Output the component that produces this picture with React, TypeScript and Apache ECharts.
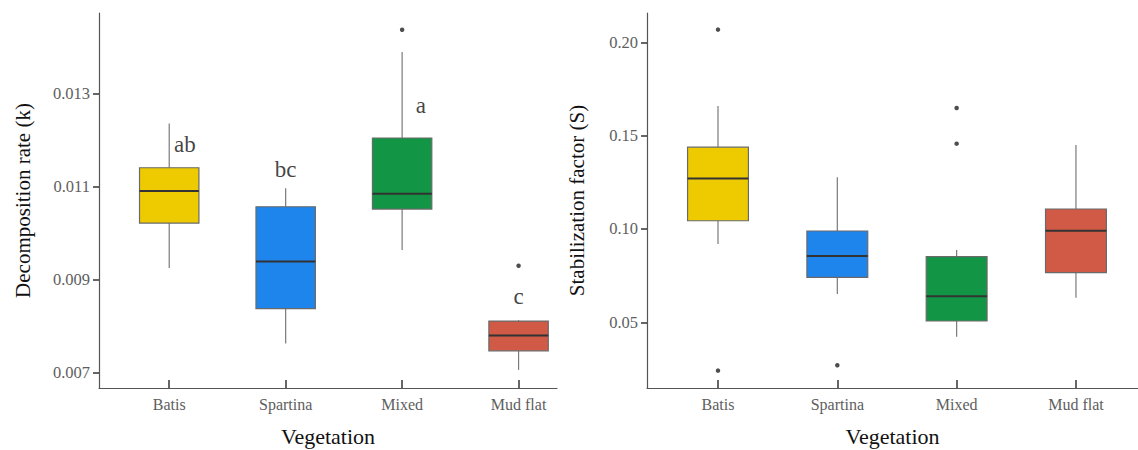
import React, { useEffect, useRef } from "react";
import * as echarts from "echarts";

const categories = ["Batis", "Spartina", "Mixed", "Mud flat"];
const boxColors = ["#EECB00", "#1E85EC", "#129645", "#D05A45"];

// [x, lowerWhisker, Q1, median, Q3, upperWhisker]
const kBoxes = [
  [1, 0.00925, 0.01022, 0.01091, 0.01141, 0.01236],
  [2, 0.00763, 0.00838, 0.00939, 0.01057, 0.01097],
  [3, 0.00964, 0.01052, 0.01085, 0.01205, 0.0139],
  [4, 0.00706, 0.00747, 0.0078, 0.00811, 0.00813],
];
const kOutliers = [
  [3, 0.01438],
  [4, 0.0093],
];
const kLetters = ["ab", "bc", "a", "c"];
const kLetterPos = [
  [1.135, 0.01192],
  [2.0, 0.01138],
  [3.16, 0.01274],
  [4.0, 0.00863],
];
const kTicks = [0.007, 0.009, 0.011, 0.013];

const sBoxes = [
  [1, 0.092, 0.1044, 0.127, 0.1438, 0.1659],
  [2, 0.0652, 0.0741, 0.0855, 0.0989, 0.1277],
  [3, 0.0423, 0.0507, 0.0639, 0.0852, 0.0887],
  [4, 0.0632, 0.0766, 0.0991, 0.1107, 0.145],
];
const sOutliers = [
  [1, 0.2068],
  [1, 0.0241],
  [2, 0.027],
  [3, 0.1648],
  [3, 0.1457],
];
const sTicks = [0.05, 0.1, 0.15, 0.2];

const FONT = "'Liberation Serif', 'Times New Roman', serif";
const AXIS_COLOR = "#555";
const LABEL_COLOR = "#5e5e5e";

function renderBox(params: any, api: any) {
  const x = api.value(0);
  const lo = api.coord([x, api.value(1)]);
  const q1 = api.coord([x, api.value(2)]);
  const med = api.coord([x, api.value(3)]);
  const q3 = api.coord([x, api.value(4)]);
  const hi = api.coord([x, api.value(5)]);
  const half = api.size([0.51, 0])[0] / 2;
  const color = boxColors[params.dataIndex];
  return {
    type: "group",
    children: [
      { type: "line", shape: { x1: lo[0], y1: lo[1], x2: q1[0], y2: q1[1] }, style: { stroke: "#7a7a7a", lineWidth: 1.2 } },
      { type: "line", shape: { x1: q3[0], y1: q3[1], x2: hi[0], y2: hi[1] }, style: { stroke: "#7a7a7a", lineWidth: 1.2 } },
      {
        type: "rect",
        shape: { x: q3[0] - half, y: q3[1], width: half * 2, height: q1[1] - q3[1] },
        style: { fill: color, stroke: "#6a6a6a", lineWidth: 1.2 },
      },
      { type: "line", shape: { x1: med[0] - half, y1: med[1], x2: med[0] + half, y2: med[1] }, style: { stroke: "#333", lineWidth: 2 } },
    ],
  };
}

function xAxisFor(gridIndex: number, min: number, max: number) {
  return {
    type: "value",
    gridIndex,
    min,
    max,
    name: "Vegetation",
    nameLocation: "middle",
    nameGap: 37,
    nameTextStyle: { fontFamily: FONT, fontSize: 22, color: "#111" },
    axisLine: { show: true, lineStyle: { color: AXIS_COLOR, width: 1.2 } },
    axisTick: { show: true, inside: true, length: 8, customValues: [1, 2, 3, 4], lineStyle: { color: "#333", width: 1.5 } },
    axisLabel: {
      customValues: [1, 2, 3, 4],
      formatter: (v: number) => categories[Math.round(v) - 1] ?? "",
      fontFamily: FONT,
      fontSize: 16,
      color: LABEL_COLOR,
      margin: 8,
    },
    splitLine: { show: false },
  };
}

function yAxisFor(gridIndex: number, min: number, max: number, ticks: number[], digits: number, name: string, nameGap: number) {
  return {
    type: "value",
    gridIndex,
    min,
    max,
    name,
    nameLocation: "middle",
    nameGap,
    nameTextStyle: { fontFamily: FONT, fontSize: 21, color: "#111" },
    axisLine: { show: true, lineStyle: { color: AXIS_COLOR, width: 1.2 } },
    axisTick: { show: true, length: 6, customValues: ticks, lineStyle: { color: "#333", width: 1.5 } },
    axisLabel: {
      customValues: ticks,
      formatter: (v: number) => v.toFixed(digits),
      fontFamily: FONT,
      fontSize: 16.5,
      color: LABEL_COLOR,
      margin: 9,
    },
    splitLine: { show: false },
  };
}

export default function App() {
  const ref = useRef<HTMLDivElement>(null);
  useEffect(() => {
    if (!ref.current) return;
    const chart = echarts.init(ref.current, null, { renderer: "svg" });
    chart.setOption({
      animation: false,
      backgroundColor: "#fff",
      textStyle: { fontFamily: FONT },
      grid: [
        { left: 99, top: 13, width: 458, height: 375, containLabel: false, outerBoundsMode: "none" },
        { left: 647, top: 13, width: 491, height: 375, containLabel: false, outerBoundsMode: "none" },
      ],
      xAxis: [xAxisFor(0, 0.397, 4.33), xAxisFor(1, 0.405, 4.52)],
      yAxis: [
        yAxisFor(0, 0.00667, 0.01474, kTicks, 3, "Decomposition rate (k)", 66),
        yAxisFor(1, 0.0148, 0.2157, sTicks, 2, "Stabilization factor (S)", 60),
      ],
      series: [
        {
          type: "custom",
          xAxisIndex: 0,
          yAxisIndex: 0,
          renderItem: renderBox,
          encode: { x: 0, y: [1, 2, 3, 4, 5] },
          data: kBoxes,
        },
        {
          type: "scatter",
          xAxisIndex: 0,
          yAxisIndex: 0,
          symbolSize: 4.5,
          itemStyle: { color: "#222" },
          data: kOutliers,
        },
        {
          type: "scatter",
          xAxisIndex: 0,
          yAxisIndex: 0,
          symbolSize: 0,
          label: {
            show: true,
            position: "inside",
            formatter: (p: any) => kLetters[p.dataIndex],
            fontFamily: FONT,
            fontSize: 23,
            color: "#111",
          },
          data: kLetterPos,
        },
        {
          type: "custom",
          xAxisIndex: 1,
          yAxisIndex: 1,
          renderItem: renderBox,
          encode: { x: 0, y: [1, 2, 3, 4, 5] },
          data: sBoxes,
        },
        {
          type: "scatter",
          xAxisIndex: 1,
          yAxisIndex: 1,
          symbolSize: 4.5,
          itemStyle: { color: "#222" },
          data: sOutliers,
        },
      ],
    });
    return () => chart.dispose();
  }, []);
  return (
    <div
      ref={ref}
      style={{ position: "absolute", left: 0, top: 0, width: 1138, height: 450 }}
    />
  );
}
